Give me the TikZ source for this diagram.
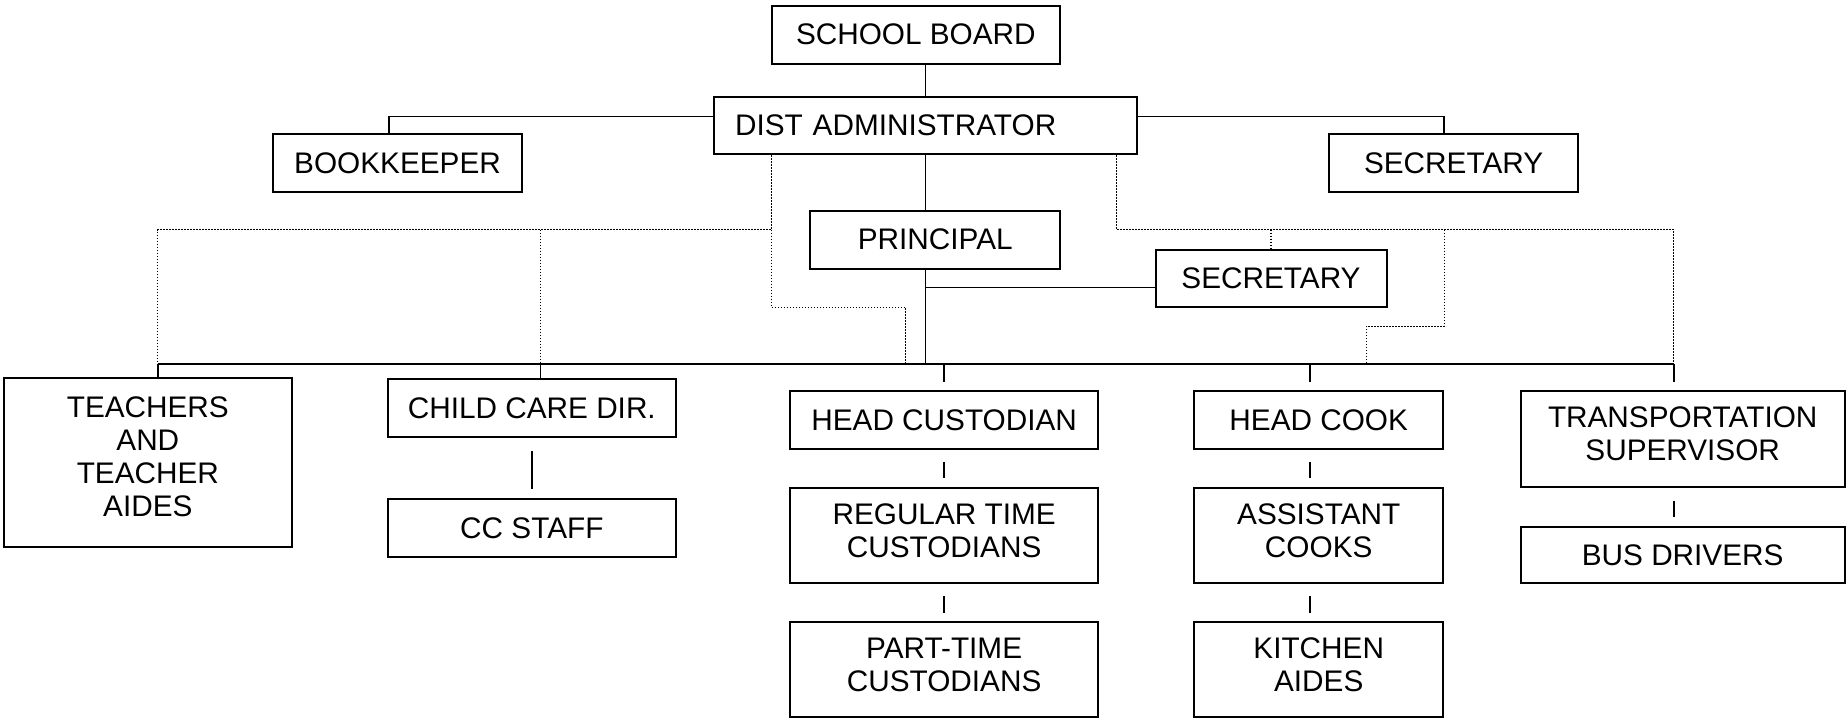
\documentclass[tikz,border=0pt]{standalone}
\usepackage{fontspec}
\setmainfont{Liberation Sans}
\begin{document}
\begin{tikzpicture}[x=0.4712pt, y=-0.4712pt,
    box/.style={draw, line width=0.8pt, inner sep=0pt, align=center,
      font=\fontsize{11.9pt}{13.2pt}\selectfont},
    one/.style={minimum height=23.1pt},
    two/.style={minimum height=38.2pt, text depth=3.8pt},
    link/.style={line width=0.6pt},
    dotlink/.style={line width=0.5pt, dash pattern=on 0.6pt off 0.6pt}]
  \useasboundingbox (0,0) rectangle (1568,610);
  \draw
    (777.5,29.5) node[box, one, minimum width=115.4pt] (board) {SCHOOL BOARD}
    (785.5,106.5) node[box, one, minimum width=169.2pt, text width=152.2pt,
      inner xsep=8.5pt, align=left] (admin) {DIST ADMINISTRATOR}
    (337.5,138.5) node[box, one, minimum width=99.4pt] (bookkeeper) {BOOKKEEPER}
    (1234,138.5) node[box, one, minimum width=99.9pt] (secr1) {SECRETARY}
    (794,203.5) node[box, one, minimum width=99.9pt] (principal) {PRINCIPAL}
    (1079,236.5) node[box, one, minimum width=92.4pt] (secr2) {SECRETARY}
    (125.5,392.5) node[box, minimum width=115.4pt, minimum height=67.4pt,
      text depth=4.7pt] (teachers) {TEACHERS\\AND\\TEACHER\\AIDES}
    (451.5,346.5) node[box, one, minimum width=115.4pt] (ccdir) {CHILD CARE DIR.}
    (451.5,448.5) node[box, one, minimum width=115.4pt] (ccstaff) {CC STAFF}
    (801.5,356.5) node[box, one, minimum width=123pt] (headcust) {HEAD CUSTODIAN}
    (801.5,454.5) node[box, two, minimum width=123pt] (regcust) {REGULAR TIME\\CUSTODIANS}
    (801.5,568.5) node[box, two, minimum width=123pt] (partcust) {PART-TIME\\CUSTODIANS}
    (1119.5,356.5) node[box, one, minimum width=99.4pt] (headcook) {HEAD COOK}
    (1119.5,454.5) node[box, two, minimum width=99.4pt] (asstcook) {ASSISTANT\\COOKS}
    (1119.5,568.5) node[box, two, minimum width=99.4pt] (kitchen) {KITCHEN\\AIDES}
    (1428.5,372.5) node[box, two, minimum width=129.6pt] (transp) {TRANSPORTATION\\SUPERVISOR}
    (1428.5,471) node[box, minimum width=129.6pt, minimum height=22.6pt] (busdrv) {BUS DRIVERS};
  \coordinate (busL) at (134,309);
  \coordinate (busR) at (1421,309);
  \coordinate (pjoin) at (785.5,244);
  \coordinate (dl) at (655,195);
  \coordinate (dr) at (948,195);
  \coordinate (lk) at (655,261);
  \coordinate (lend) at (769,309);
  \coordinate (rk) at (1226,277);
  \coordinate (rend) at (1160,309);
  \begin{scope}[link]
    \draw (admin.north) to (admin.north |- board.south);
    \draw ([yshift=3.5pt]admin.west) -| ([xshift=-3.5pt]bookkeeper.north);
    \draw ([yshift=3.5pt]admin.east) -| ([xshift=-3.8pt]secr1.north);
    \draw (admin.south) to (admin.south |- principal.north);
    \draw (admin.south |- principal.south) to (admin.south |- busL);
    \draw (pjoin) to (pjoin -| secr2.west);
    \draw (busL) to (busR);
    \draw (busL) to (busL |- teachers.north);
    \draw ([xshift=3.5pt]ccdir.north) to ([xshift=3.5pt]ccdir.north |- busL);
    \draw (headcust.north |- busL) to ([yshift=3.3pt]headcust.north);
    \draw ([xshift=-3.5pt]headcook.north |- busL) to ([xshift=-3.5pt,yshift=3.3pt]headcook.north);
    \draw (busR) to ([yshift=3.3pt]transp.north -| busR);
    \draw ([yshift=-5.2pt]ccdir.south) to ([yshift=3.8pt]ccstaff.north);
    \draw ([yshift=-4.7pt]headcust.south) to ([yshift=3.3pt]regcust.north);
    \draw ([yshift=-4.7pt]regcust.south) to ([yshift=3.3pt]partcust.north);
    \draw ([xshift=-3.5pt,yshift=-4.7pt]headcook.south) to ([xshift=-3.5pt,yshift=3.3pt]asstcook.north);
    \draw ([xshift=-3.5pt,yshift=-4.7pt]asstcook.south) to ([xshift=-3.5pt,yshift=3.3pt]kitchen.north);
    \draw ([yshift=-5.2pt]transp.south -| busR) to ([yshift=3.3pt]busdrv.north -| busR);
  \end{scope}
  \begin{scope}[dotlink]
    \draw (admin.south -| dl) -- (dl) -- (dl -| busL) -- (busL);
    \draw ([xshift=3.5pt]ccdir.north |- dl) -- ([xshift=3.5pt]ccdir.north |- busL);
    \draw (dl) -- (lk) -| (lend);
    \draw (admin.south -| dr) -- (dr) -- (dr -| busR) -- (busR);
    \draw (secr2.north |- dr) -- (secr2.north);
    \draw (rk |- dr) -- (rk) -| (rend);
  \end{scope}
\end{tikzpicture}
\end{document}
